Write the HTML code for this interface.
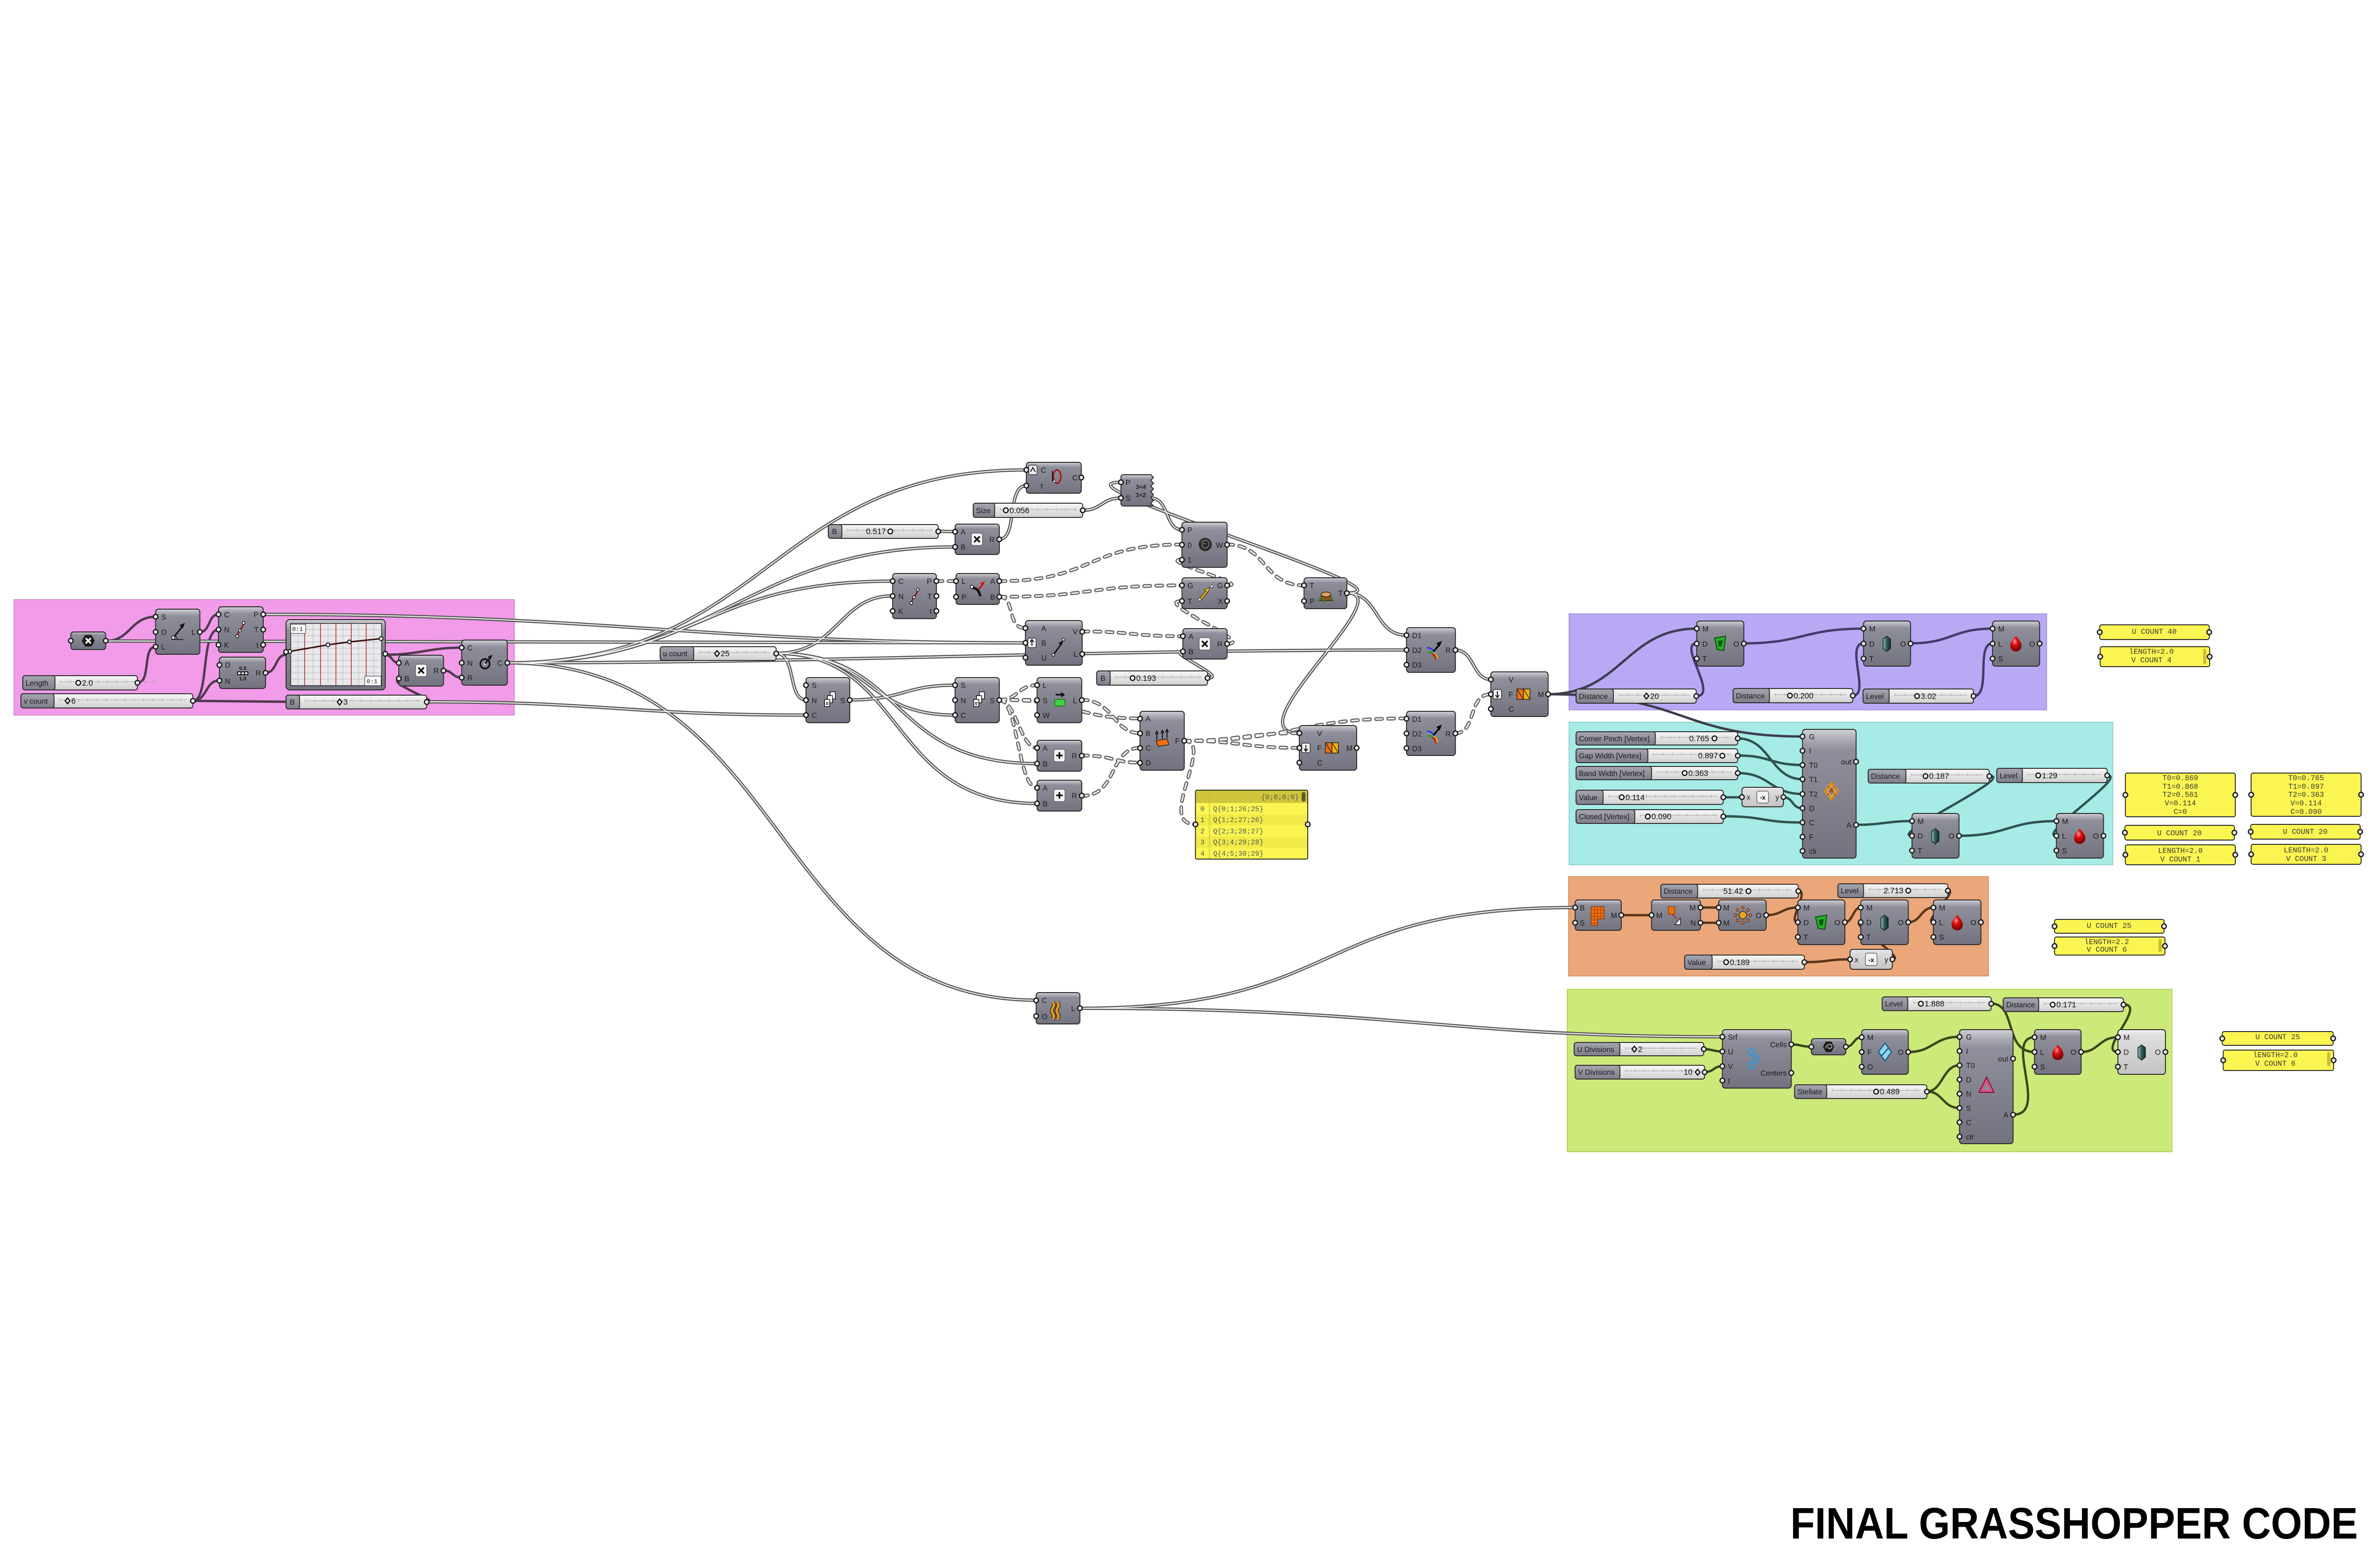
<!DOCTYPE html>
<html><head><meta charset="utf-8">
<style>
html,body{margin:0;padding:0;background:#fff;width:100vw;height:100vh;overflow:hidden}
svg{display:block;width:100vw;height:100vh}
.n{fill:url(#ng);stroke:#2b2b2b;stroke-width:2}
.nl{fill:url(#nlg);stroke:#2b2b2b;stroke-width:2}
.g{fill:#e6e6e6;stroke:#151515;stroke-width:2.5}
.t{font-family:"Liberation Sans",sans-serif;font-size:16px;fill:#1c1c1c}
.e{text-anchor:end}
.m{text-anchor:middle}
.sl{fill:url(#slg);stroke:#2e2e2e;stroke-width:2}
.sr{fill:url(#srg);stroke:#2e2e2e;stroke-width:2}
.st{font-family:"Liberation Sans",sans-serif;font-size:16px;fill:#1a1a1a}
.sv{font-family:"Liberation Sans",sans-serif;font-size:17px;fill:#111}
.rail{stroke:#a0a0a0;stroke-width:1;fill:none}
.tick{stroke:#a0a0a0;stroke-width:6;stroke-dasharray:1 19;fill:none}
.mk{fill:#fff;stroke:#111;stroke-width:2.5}
.pn{fill:#fbf552;stroke:#2a2a2a;stroke-width:2}
.pt{font-family:"Liberation Mono",monospace;font-size:16px;fill:#3a3a2a;text-anchor:middle}
.wa{fill:none;stroke:#575757;stroke-width:7}
.wb{fill:none;stroke:#f2f2f2;stroke-width:2.2}
.da{fill:none;stroke:#666;stroke-width:8;stroke-dasharray:13 13;stroke-linecap:round}
.db{fill:none;stroke:#f4f4f4;stroke-width:3;stroke-dasharray:13 13;stroke-linecap:round}
.wp{fill:none;stroke:#4e3a4e;stroke-width:5}
.wq{fill:none;stroke:#463a6a;stroke-width:5}
.wc{fill:none;stroke:#2f5250;stroke-width:5}
.wr{fill:none;stroke:#5a361a;stroke-width:5}
.wg{fill:none;stroke:#3b4718;stroke-width:5}
.wd{fill:none;stroke:#3d3d4d;stroke-width:5}
</style></head><body>
<svg xmlns="http://www.w3.org/2000/svg" width="100%" height="100%" viewBox="0 0 5100 3300" preserveAspectRatio="none">
<defs>
<linearGradient id="ng" x1="0" y1="0" x2="0" y2="1"><stop offset="0" stop-color="#d0d0d6"/><stop offset="0.09" stop-color="#a8a8b2"/><stop offset="0.16" stop-color="#8f8f9b"/><stop offset="1" stop-color="#737380"/></linearGradient>
<linearGradient id="nlg" x1="0" y1="0" x2="0" y2="1"><stop offset="0" stop-color="#f6f6f6"/><stop offset="0.12" stop-color="#dedede"/><stop offset="1" stop-color="#c4c4c4"/></linearGradient>
<linearGradient id="slg" x1="0" y1="0" x2="0" y2="1"><stop offset="0" stop-color="#a6a6b0"/><stop offset="1" stop-color="#7e7e8a"/></linearGradient>
<linearGradient id="srg" x1="0" y1="0" x2="0" y2="1"><stop offset="0" stop-color="#f7f7f7"/><stop offset="1" stop-color="#d0d0d0"/></linearGradient>
<radialGradient id="red" cx="0.4" cy="0.35" r="0.7"><stop offset="0" stop-color="#ff9a9a"/><stop offset="0.35" stop-color="#e01010"/><stop offset="1" stop-color="#6a0000"/></radialGradient>
<linearGradient id="gem" x1="0" y1="0" x2="1" y2="0"><stop offset="0" stop-color="#9cc2ba"/><stop offset="0.5" stop-color="#2e5c55"/><stop offset="1" stop-color="#142d2a"/></linearGradient>

<path id="o1" d="M565,1293 C1300,1293 1500,1353 2201,1353"/>
<path id="o2" d="M227,1349 C1000,1349 1500,1353 2201,1353"/>
<path id="o3" d="M1089,1395 C1800,1395 2300,1368 3019,1368"/>
<path id="o4" d="M1089,1395 C1650,1395 1650,989 2203,989"/>
<path id="o5" d="M1089,1395 C1550,1395 1600,1151 2050,1151"/>
<path id="o6" d="M1089,1395 C1500,1395 1500,1223 1916,1223"/>
<path id="o7" d="M1089,1395 C1700,1395 1650,2105 2224,2105"/>
<path id="o8" d="M916,1477 C1300,1477 1350,1505 1730,1505"/>
<path id="o10" d="M1666,1375 C1800,1375 1800,1254 1916,1254"/>
<path id="o11" d="M1666,1375 C1710,1375 1690,1473 1730,1473"/>
<path id="o12" d="M1666,1375 C1880,1375 1850,1505 2050,1505"/>
<path id="o13" d="M1666,1375 C1950,1375 1900,1607 2226,1607"/>
<path id="o14" d="M1666,1375 C1950,1375 1900,1691 2226,1691"/>
<path id="o15" d="M1824,1473 C1940,1473 1940,1442 2050,1442"/>
<path id="o16" d="M2324,1074 C2365,1074 2365,1048 2406,1048"/>
<path id="o17" d="M2145,1135 C2185,1135 2160,1022 2203,1022"/>
<path id="o18" d="M2891,1248 C3060,1248 2240,1015 2406,1015"/>
<path id="o19" d="M2891,1248 C3010,1248 2640,1543 2789,1543"/>
<path id="o20" d="M2891,1248 C2960,1248 2950,1337 3019,1337"/>
<path id="o21" d="M3124,1368 C3165,1368 3160,1430 3200,1430"/>
<path id="o22" d="M2014,1118 L2050,1119"/>
<path id="o23" d="M2592,1427 C2640,1427 2500,1371 2539,1371"/>
<path id="o24" d="M2318,2122 C2900,2122 2800,1910 3381,1910"/>
<path id="o25" d="M2318,2122 C3000,2122 3100,2182 3697,2182"/>
<path id="o28" d="M2470,1048 C2510,1048 2500,1115 2537,1115"/>

<path id="d1" d="M2010,1223 L2052,1223"/>
<path id="d2" d="M2145,1223 C2350,1223 2330,1146 2537,1146"/>
<path id="d3" d="M2145,1256 C2350,1256 2330,1232 2537,1232"/>
<path id="d4" d="M2145,1256 C2180,1256 2160,1322 2201,1322"/>
<path id="d5" d="M2323,1329 C2430,1329 2430,1339 2539,1339"/>
<path id="d6" d="M2634,1146 C2720,1146 2710,1232 2799,1232"/>
<path id="d7" d="M2634,1355 C2700,1355 2470,1265 2537,1265"/>
<path id="d8" d="M2634,1232 C2690,1232 2480,1178 2537,1178"/>
<path id="d9" d="M2145,1473 C2185,1473 2185,1442 2226,1442"/>
<path id="d10" d="M2145,1473 L2226,1473"/>
<path id="d11" d="M2145,1473 C2180,1473 2190,1574 2226,1574"/>
<path id="d12" d="M2145,1473 C2185,1473 2185,1658 2226,1658"/>
<path id="d13" d="M2322,1473 C2390,1473 2390,1543 2447,1543"/>
<path id="d14" d="M2145,1473 C2320,1473 2300,1512 2447,1512"/>
<path id="d15" d="M2322,1590 C2390,1590 2390,1605 2447,1605"/>
<path id="d16" d="M2322,1675 C2400,1675 2380,1574 2447,1574"/>
<path id="d17" d="M2541,1559 C2660,1559 2670,1574 2789,1574"/>
<path id="d18" d="M2541,1559 C2780,1559 2780,1512 3019,1512"/>
<path id="d19" d="M2541,1559 C2610,1559 2480,1735 2566,1735"/>
<path id="d20" d="M3124,1543 C3170,1543 3150,1461 3200,1461"/>
<path id="d21" d="M2541,1559 C2660,1559 2670,1543 2789,1543"/>
</defs>

<rect width="5100" height="3300" fill="#ffffff"/>

<!-- Groups -->
<rect x="30" y="1262" width="1074" height="243" fill="#f29be9" stroke="#d98bd2" stroke-width="2"/>
<rect x="3368" y="1292" width="1025" height="202" fill="#b9a9f4" stroke="#a697e0" stroke-width="2"/>
<rect x="3368" y="1520" width="1167" height="300" fill="#a6ebe5" stroke="#8fd3cd" stroke-width="2"/>
<rect x="3367" y="1845" width="901" height="209" fill="#eba77a" stroke="#d4946a" stroke-width="2"/>
<rect x="3364" y="2082" width="1298" height="342" fill="#cde97a" stroke="#b3d068" stroke-width="2"/>

<!-- group wires -->
<g class="wp">
<path d="M227,1349 C280,1349 280,1298 334,1298"/>
<path d="M295,1437 C325,1437 305,1361 334,1361"/>
<path d="M429,1330 C452,1330 446,1293 469,1293"/>
<path d="M414,1475 C450,1475 430,1325 469,1325"/>
<path d="M414,1475 C445,1475 440,1432 471,1432"/>
<path d="M570,1416 C595,1416 590,1378 614,1378"/>
<path d="M827,1378 C842,1378 840,1395 856,1395"/>
<path d="M916,1477 C950,1477 830,1440 856,1428"/>
<path d="M952,1411 C972,1411 970,1426 991,1426"/>
<path d="M827,1378 C900,1378 920,1363 991,1363"/>
<path d="M414,1475 L620,1477"/>
</g>
<g class="wq">
<path d="M3641,1465 C3690,1465 3600,1354 3642,1354"/>
<path d="M3743,1354 C3870,1354 3870,1323 4000,1323"/>
<path d="M3977,1464 C4015,1464 3960,1354 4000,1354"/>
<path d="M4101,1354 C4190,1354 4190,1323 4277,1323"/>
<path d="M4236,1465 C4275,1465 4240,1354 4277,1354"/>
</g>
<g class="wc">
<path d="M3730,1554 C3800,1554 3800,1640 3869,1640"/>
<path d="M3730,1590 C3800,1590 3800,1610 3869,1610"/>
<path d="M3730,1627 C3800,1627 3800,1671 3869,1671"/>
<path d="M3699,1678 L3739,1678"/>
<path d="M3828,1678 C3850,1678 3845,1701 3869,1701"/>
<path d="M3699,1718 C3790,1718 3780,1731 3869,1731"/>
<path d="M3984,1736 C4040,1736 4050,1728 4104,1728"/>
<path d="M4270,1633 C4330,1633 4050,1759 4104,1759"/>
<path d="M4205,1759 C4310,1759 4310,1728 4414,1728"/>
<path d="M4523,1632 C4570,1632 4370,1759 4414,1759"/>
</g>
<g class="wr">
<path d="M3480,1926 L3545,1926"/>
<path d="M3650,1910 L3689,1910"/>
<path d="M3650,1942 L3689,1942"/>
<path d="M3791,1926 C3825,1926 3825,1910 3859,1910"/>
<path d="M3860,1875 C3885,1875 3835,1941 3859,1941"/>
<path d="M3960,1941 C3977,1941 3977,1910 3994,1910"/>
<path d="M4096,1941 C4123,1941 4123,1910 4150,1910"/>
<path d="M4181,1874 C4205,1874 4125,1941 4150,1941"/>
<path d="M3873,2025 C3920,2025 3925,2019 3971,2019"/>
<path d="M4062,2019 C4095,2019 3965,1941 3994,1941"/>
</g>
<g class="wg">
<path d="M3657,2208 C3677,2208 3677,2213 3697,2213"/>
<path d="M3659,2256 C3680,2256 3677,2244 3697,2244"/>
<path d="M3845,2198 C3866,2198 3866,2203 3888,2203"/>
<path d="M3962,2203 C3980,2203 3978,2183 3996,2183"/>
<path d="M4096,2214 C4150,2214 4150,2182 4206,2182"/>
<path d="M4136,2297 C4170,2297 4170,2242 4206,2242"/>
<path d="M4136,2297 C4170,2297 4170,2332 4206,2332"/>
<path d="M4321,2346 C4400,2346 4300,2183 4367,2183"/>
<path d="M4274,2112 C4330,2112 4300,2214 4367,2214"/>
<path d="M4467,2214 C4505,2214 4505,2183 4546,2183"/>
<path d="M4558,2114 C4610,2114 4500,2214 4546,2214"/>
</g>
<g class="wd">
<path d="M3323,1461 C3480,1461 3490,1323 3642,1323"/>
<path d="M3323,1461 C3620,1461 3600,1550 3869,1550"/>
</g>

<!-- outside double wires -->
<g class="wa">
<use href="#o1"/><use href="#o2"/><use href="#o3"/><use href="#o4"/><use href="#o5"/><use href="#o6"/><use href="#o7"/><use href="#o8"/><use href="#o10"/><use href="#o11"/><use href="#o12"/><use href="#o13"/><use href="#o14"/><use href="#o15"/><use href="#o16"/><use href="#o17"/><use href="#o18"/><use href="#o19"/><use href="#o20"/><use href="#o21"/><use href="#o22"/><use href="#o23"/><use href="#o24"/><use href="#o25"/><use href="#o28"/>
</g>
<g class="wb">
<use href="#o1"/><use href="#o2"/><use href="#o3"/><use href="#o4"/><use href="#o5"/><use href="#o6"/><use href="#o7"/><use href="#o8"/><use href="#o10"/><use href="#o11"/><use href="#o12"/><use href="#o13"/><use href="#o14"/><use href="#o15"/><use href="#o16"/><use href="#o17"/><use href="#o18"/><use href="#o19"/><use href="#o20"/><use href="#o21"/><use href="#o22"/><use href="#o23"/><use href="#o24"/><use href="#o25"/><use href="#o28"/>
</g>
<g class="da">
<use href="#d1"/><use href="#d2"/><use href="#d3"/><use href="#d4"/><use href="#d5"/><use href="#d6"/><use href="#d7"/><use href="#d8"/><use href="#d9"/><use href="#d10"/><use href="#d11"/><use href="#d12"/><use href="#d13"/><use href="#d14"/><use href="#d15"/><use href="#d16"/><use href="#d17"/><use href="#d18"/><use href="#d19"/><use href="#d20"/><use href="#d21"/>
</g>
<g class="db">
<use href="#d1"/><use href="#d2"/><use href="#d3"/><use href="#d4"/><use href="#d5"/><use href="#d6"/><use href="#d7"/><use href="#d8"/><use href="#d9"/><use href="#d10"/><use href="#d11"/><use href="#d12"/><use href="#d13"/><use href="#d14"/><use href="#d15"/><use href="#d16"/><use href="#d17"/><use href="#d18"/><use href="#d19"/><use href="#d20"/><use href="#d21"/>
</g>

<!-- ================= PINK NODES ================= -->
<g transform="translate(152,1330)"><rect class="n" width="75" height="37" rx="6"/><polygon points="51.5,18.5 44.5,6.4 30.5,6.4 23.5,18.5 30.5,30.6 44.5,30.6" fill="#1b1b1b"/><path d="M32,13 L43,24 M43,13 L32,24" stroke="#fff" stroke-width="3.5"/><circle class="g" cx="0" cy="18.5" r="5"/><circle class="g" cx="75" cy="18.5" r="5"/></g>

<g transform="translate(334,1282)"><rect class="n" width="95" height="95" rx="6"/>
<text class="t" x="12" y="22">S</text><text class="t" x="12" y="54">D</text><text class="t" x="12" y="85">L</text><text class="t e" x="86" y="54">L</text>
<path d="M38,60 L58,36" stroke="#111" stroke-width="3"/><path d="M63,29 L51,34 L58,41Z" fill="#111"/><path d="M34,64 H60 M48,64 L42,54" stroke="#111" stroke-width="1.5" fill="none"/><circle cx="38" cy="60" r="3.5" fill="#fff" stroke="#111" stroke-width="1.5"/>
<circle class="g" cx="0" cy="16" r="5"/><circle class="g" cx="0" cy="48" r="5"/><circle class="g" cx="0" cy="79" r="5"/><circle class="g" cx="95" cy="48" r="5"/></g>

<g transform="translate(469,1277)"><rect class="n" width="96" height="96" rx="6"/>
<text class="t" x="12" y="22">C</text><text class="t" x="12" y="54">N</text><text class="t" x="12" y="86">K</text><text class="t e" x="86" y="22">P</text><text class="t e" x="86" y="54">T</text><text class="t e" x="86" y="86">t</text>
<path d="M40,62 C42,50 52,46 54,34" stroke="#8b1a1a" stroke-width="3" fill="none"/><circle cx="40" cy="62" r="3" fill="#fff" stroke="#111" stroke-width="1.5"/><circle cx="46" cy="50" r="3" fill="#fff" stroke="#111" stroke-width="1.5"/><circle cx="54" cy="34" r="3" fill="#fff" stroke="#111" stroke-width="1.5"/>
<circle class="g" cx="0" cy="16" r="5"/><circle class="g" cx="0" cy="48" r="5"/><circle class="g" cx="0" cy="80" r="5"/><circle class="g" cx="96" cy="16" r="5"/><circle class="g" cx="96" cy="48" r="5"/><circle class="g" cx="96" cy="80" r="5"/></g>

<g transform="translate(471,1383)"><rect class="n" width="99" height="66" rx="6"/>
<text class="t" x="12" y="22">D</text><text class="t" x="12" y="56">N</text><text class="t e" x="89" y="39">R</text>
<text x="50" y="27" font-family="Liberation Sans" font-size="11" font-weight="bold" text-anchor="middle" fill="#111">0.0</text><rect x="38" y="30" width="24" height="8" fill="#111"/><rect x="40" y="32" width="5" height="4" fill="#fff"/><rect x="47.5" y="32" width="5" height="4" fill="#fff"/><rect x="55" y="32" width="5" height="4" fill="#fff"/><text x="50" y="49" font-family="Liberation Sans" font-size="11" font-weight="bold" text-anchor="middle" fill="#111">1.0</text>
<circle class="g" cx="0" cy="16.5" r="5"/><circle class="g" cx="0" cy="49.5" r="5"/><circle class="g" cx="99" cy="33" r="5"/></g>

<g transform="translate(614,1304)"><rect class="n" width="213" height="148" rx="8"/>
<rect x="10" y="8" width="195" height="131" fill="#e9e9ec" stroke="#222" stroke-width="1.5"/>
<path d="M10,21 H205 M10,34 H205 M10,47 H205 M10,60 H205 M10,73 H205 M10,86 H205 M10,99 H205 M10,112 H205 M10,125 H205 M26,8 V139 M58,8 V139 M90,8 V139 M122,8 V139 M156,8 V139 M188,8 V139" stroke="#b8b8be" stroke-width="1"/>
<path d="M40,8 V139 M74,8 V139 M107,8 V139 M140,8 V139 M172,8 V139" stroke="#a02020" stroke-width="1.5"/>
<polyline points="8,67 90,53 136,47 204,40" fill="none" stroke="#3a0a0a" stroke-width="3"/>
<circle cx="8" cy="67" r="4" fill="#fff" stroke="#111" stroke-width="2"/><circle cx="90" cy="53" r="4" fill="#fff" stroke="#111" stroke-width="2"/><circle cx="136" cy="47" r="4" fill="#fff" stroke="#111" stroke-width="2"/><circle cx="204" cy="40" r="4" fill="#fff" stroke="#111" stroke-width="2"/>
<rect x="10" y="10" width="32" height="19" fill="#fff" stroke="#222" stroke-width="1"/><text x="13" y="24" font-family="Liberation Mono" font-size="13" fill="#111">0:1</text>
<rect x="169" y="119" width="35" height="20" fill="#fff" stroke="#222" stroke-width="1"/><text x="173" y="134" font-family="Liberation Mono" font-size="13" fill="#111">0:1</text>
<circle class="g" cx="0" cy="68" r="5"/><circle class="g" cx="213" cy="72" r="5"/></g>

<g transform="translate(856,1379)"><rect class="n" width="96" height="65" rx="6"/>
<text class="t" x="12" y="22">A</text><text class="t" x="12" y="55">B</text><text class="t e" x="86" y="38">R</text>
<rect x="36" y="19" width="24" height="26" rx="4" fill="#f4f4f4" stroke="#666" stroke-width="1.5"/><path d="M42,26 L54,38 M54,26 L42,38" stroke="#111" stroke-width="3.5"/>
<circle class="g" cx="0" cy="16" r="5"/><circle class="g" cx="0" cy="49" r="5"/><circle class="g" cx="96" cy="32.5" r="5"/></g>

<g transform="translate(991,1347)"><rect class="n" width="98" height="95" rx="6"/>
<text class="t" x="12" y="22">C</text><text class="t" x="12" y="54">N</text><text class="t" x="12" y="85">R</text><text class="t e" x="88" y="54">C</text>
<circle cx="50" cy="50" r="10" fill="none" stroke="#111" stroke-width="3.5"/><circle cx="50" cy="50" r="2.5" fill="#fff"/><path d="M50,50 L62,36" stroke="#111" stroke-width="3"/><path d="M66,31 L56,35 L62,41Z" fill="#111"/>
<circle class="g" cx="0" cy="16" r="5"/><circle class="g" cx="0" cy="48" r="5"/><circle class="g" cx="0" cy="79" r="5"/><circle class="g" cx="98" cy="48" r="5"/></g>

<!-- pink sliders -->
<g transform="translate(49,1422)"><rect class="sr" width="246" height="30" rx="5"/><rect class="sl" width="69" height="30" rx="5"/><text class="st" x="6" y="21">Length</text><path class="rail" d="M81,13 H282"/><path class="tick" d="M81,13 H282"/><circle class="mk" cx="119" cy="15" r="5"/><text class="sv" x="127" y="21">2.0</text><circle class="g" cx="246" cy="15" r="5"/></g>
<g transform="translate(45,1460)"><rect class="sr" width="369" height="30" rx="5"/><rect class="sl" width="71" height="30" rx="5"/><text class="st" x="6" y="21">v count</text><path class="rail" d="M83,13 H356"/><path class="tick" d="M83,13 H356"/><path class="mk" d="M100,9 L105,15 L100,21 L95,15Z"/><text class="sv" x="108" y="21">6</text><circle class="g" cx="369" cy="15" r="5"/></g>
<g transform="translate(614,1463)"><rect class="sr" width="302" height="29" rx="5"/><rect class="sl" width="29" height="29" rx="5"/><text class="st" x="8" y="20">B</text><path class="rail" d="M41,12 H289"/><path class="tick" d="M41,12 H289"/><path class="mk" d="M115,8.5 L120,14.5 L115,20.5 L110,14.5Z"/><text class="sv" x="123" y="20">3</text><circle class="g" cx="302" cy="14.5" r="5"/></g>

<!-- ================= MIDDLE NODES ================= -->
<g transform="translate(2203,973)"><rect class="n" width="118" height="65" rx="6"/>
<rect x="5" y="6" width="18" height="20" rx="3" fill="#eee" stroke="#333" stroke-width="1.5"/><path d="M9,20 L14,11 L19,20" stroke="#111" stroke-width="2" fill="none"/>
<text class="t" x="31" y="22">C</text><text class="t" x="31" y="55">t</text><text class="t e" x="110" y="38">C</text>
<ellipse cx="66" cy="30" rx="8" ry="14" fill="none" stroke="#b01010" stroke-width="3"/><path d="M56,18 V40" stroke="#111" stroke-width="2"/><circle cx="60" cy="40" r="2.5" fill="#fff" stroke="#111"/>
<circle class="g" cx="0" cy="16" r="5"/><circle class="g" cx="0" cy="49" r="5"/><circle class="g" cx="118" cy="32" r="5"/></g>

<g transform="translate(2406,999)"><path class="n" d="M6,0 H64 L70,6 L64,12 L70,18 L64,24 L70,30 L64,36 L70,42 L64,48 L70,54 L64,60 L70,66 H6 Q0,66 0,60 V6 Q0,0 6,0 Z"/>
<text class="t" x="10" y="22">P</text><text class="t" x="10" y="55">S</text>
<text x="43" y="30" font-family="Liberation Sans" font-size="13" font-weight="bold" text-anchor="middle" fill="#222">3&lt;4</text><text x="43" y="47" font-family="Liberation Sans" font-size="13" font-weight="bold" text-anchor="middle" fill="#222">1&lt;2</text>
<circle class="g" cx="0" cy="16" r="5"/><circle class="g" cx="0" cy="49" r="5"/></g>

<g transform="translate(2089,1059)"><rect class="sr" width="235" height="30" rx="5"/><rect class="sl" width="46" height="30" rx="5"/><text class="st" x="6" y="21">Size</text><path class="rail" d="M58,13 H222"/><path class="tick" d="M58,13 H222"/><circle class="mk" cx="70" cy="15" r="5"/><text class="sv" x="78" y="21">0.056</text><circle class="g" cx="235" cy="15" r="5"/></g>
<g transform="translate(1778,1104)"><rect class="sr" width="236" height="29" rx="5"/><rect class="sl" width="29" height="29" rx="5"/><text class="st" x="8" y="20">B</text><path class="rail" d="M41,12 H223"/><path class="tick" d="M41,12 H223"/><text class="sv" x="81" y="20">0.517</text><circle class="mk" cx="133" cy="14.5" r="5"/><circle class="g" cx="236" cy="14.5" r="5"/></g>

<g transform="translate(2050,1103)"><rect class="n" width="95" height="64" rx="6"/>
<text class="t" x="12" y="22">A</text><text class="t" x="12" y="54">B</text><text class="t e" x="85" y="38">R</text>
<rect x="35" y="19" width="24" height="26" rx="4" fill="#f4f4f4" stroke="#666" stroke-width="1.5"/><path d="M41,26 L53,38 M53,26 L41,38" stroke="#111" stroke-width="3.5"/>
<circle class="g" cx="0" cy="16" r="5"/><circle class="g" cx="0" cy="48" r="5"/><circle class="g" cx="95" cy="32" r="5"/></g>

<g transform="translate(2537,1099)"><rect class="n" width="97" height="95" rx="6"/>
<text class="t" x="12" y="22">P</text><text class="t" x="12" y="54">0</text><text class="t" x="12" y="85">1</text><text class="t e" x="88" y="54">W</text>
<circle cx="50" cy="47" r="14" fill="#2a2a2a"/><path d="M42,44 C44,36 56,36 58,44 C60,52 50,58 44,52 C40,48 46,42 51,46" stroke="#777" stroke-width="2" fill="none"/>
<circle class="g" cx="0" cy="16" r="5"/><circle class="g" cx="0" cy="47.5" r="5"/><circle class="g" cx="0" cy="79" r="5"/><circle class="g" cx="97" cy="47.5" r="5"/></g>

<g transform="translate(1916,1207)"><rect class="n" width="94" height="95" rx="6"/>
<text class="t" x="12" y="22">C</text><text class="t" x="12" y="54">N</text><text class="t" x="12" y="85">K</text><text class="t e" x="84" y="22">P</text><text class="t e" x="84" y="54">T</text><text class="t e" x="84" y="85">t</text>
<path d="M40,62 C42,50 52,46 54,34" stroke="#8b1a1a" stroke-width="3" fill="none"/><circle cx="40" cy="62" r="3" fill="#fff" stroke="#111" stroke-width="1.5"/><circle cx="46" cy="50" r="3" fill="#fff" stroke="#111" stroke-width="1.5"/><circle cx="54" cy="34" r="3" fill="#fff" stroke="#111" stroke-width="1.5"/>
<circle class="g" cx="0" cy="16" r="5"/><circle class="g" cx="0" cy="47.5" r="5"/><circle class="g" cx="0" cy="79" r="5"/><circle class="g" cx="94" cy="16" r="5"/><circle class="g" cx="94" cy="47.5" r="5"/><circle class="g" cx="94" cy="79" r="5"/></g>

<g transform="translate(2052,1207)"><rect class="n" width="93" height="65" rx="6"/>
<text class="t" x="12" y="22">L</text><text class="t" x="12" y="55">P</text><text class="t e" x="84" y="22">A</text><text class="t e" x="84" y="55">B</text>
<path d="M34,30 C44,30 50,36 52,48" stroke="#111" stroke-width="5" fill="none"/><circle cx="34" cy="28" r="3.5" fill="#fff" stroke="#111" stroke-width="1.5"/><path d="M48,34 L58,22" stroke="#d01818" stroke-width="4"/><path d="M62,16 L52,20 L58,26Z" fill="#d01818"/>
<circle class="g" cx="0" cy="16" r="5"/><circle class="g" cx="0" cy="49" r="5"/><circle class="g" cx="93" cy="16" r="5"/><circle class="g" cx="93" cy="49" r="5"/></g>

<g transform="translate(2537,1216)"><rect class="n" width="97" height="65" rx="6"/>
<text class="t" x="12" y="22">G</text><text class="t" x="12" y="55">T</text><text class="t e" x="88" y="22">G</text><text class="t e" x="88" y="55">X</text>
<path d="M40,44 L56,26" stroke="#333" stroke-width="6"/><path d="M40,44 L56,26" stroke="#f0b400" stroke-width="3.5"/><path d="M60,20 L48,25 L55,32Z" fill="#f0b400" stroke="#333" stroke-width="1"/><circle cx="38" cy="46" r="3" fill="#fff" stroke="#111"/><circle cx="64" cy="18" r="3" fill="#fff" stroke="#111"/>
<circle class="g" cx="0" cy="16" r="5"/><circle class="g" cx="0" cy="49" r="5"/><circle class="g" cx="97" cy="16" r="5"/><circle class="g" cx="97" cy="49" r="5"/></g>

<g transform="translate(2201,1306)"><rect class="n" width="122" height="94" rx="6"/>
<rect x="5" y="37" width="18" height="20" rx="3" fill="#eee" stroke="#333" stroke-width="1.5"/><path d="M14,53 V41 M10,45 L14,40 L18,45" stroke="#111" stroke-width="2" fill="none"/>
<text class="t" x="34" y="22">A</text><text class="t" x="34" y="53">B</text><text class="t" x="34" y="84">U</text><text class="t e" x="112" y="29">V</text><text class="t e" x="112" y="76">L</text>
<path d="M60,72 L78,48" stroke="#111" stroke-width="3"/><path d="M82,42 L71,47 L77,53Z" fill="#111"/><circle cx="60" cy="72" r="3" fill="#fff" stroke="#111" stroke-width="1.5"/><circle cx="82" cy="40" r="3" fill="#fff" stroke="#111" stroke-width="1.5"/>
<circle class="g" cx="0" cy="16" r="5"/><circle class="g" cx="0" cy="47" r="5"/><circle class="g" cx="0" cy="78" r="5"/><circle class="g" cx="122" cy="23.5" r="5"/><circle class="g" cx="122" cy="70.5" r="5"/></g>

<g transform="translate(2539,1323)"><rect class="n" width="95" height="64" rx="6"/>
<text class="t" x="12" y="22">A</text><text class="t" x="12" y="54">B</text><text class="t e" x="85" y="38">R</text>
<rect x="35" y="19" width="24" height="26" rx="4" fill="#f4f4f4" stroke="#666" stroke-width="1.5"/><path d="M41,26 L53,38 M53,26 L41,38" stroke="#111" stroke-width="3.5"/>
<circle class="g" cx="0" cy="16" r="5"/><circle class="g" cx="0" cy="48" r="5"/><circle class="g" cx="95" cy="32" r="5"/></g>

<g transform="translate(1417,1361)"><rect class="sr" width="249" height="29" rx="5"/><rect class="sl" width="72" height="29" rx="5"/><text class="st" x="6" y="20">u count</text><path class="rail" d="M84,12 H236"/><path class="tick" d="M84,12 H236"/><path class="mk" d="M122,8.5 L127,14.5 L122,20.5 L117,14.5Z"/><text class="sv" x="130" y="20">25</text><circle class="g" cx="249" cy="14.5" r="5"/></g>
<g transform="translate(2354,1412)"><rect class="sr" width="238" height="30" rx="5"/><rect class="sl" width="29" height="30" rx="5"/><text class="st" x="8" y="21">B</text><path class="rail" d="M41,13 H225"/><path class="tick" d="M41,13 H225"/><circle class="mk" cx="77" cy="15" r="5"/><text class="sv" x="85" y="21">0.193</text><circle class="g" cx="238" cy="15" r="5"/></g>

<g transform="translate(1730,1426)"><rect class="n" width="94" height="95" rx="6"/>
<text class="t" x="12" y="22">S</text><text class="t" x="12" y="54">N</text><text class="t" x="12" y="85">C</text><text class="t e" x="84" y="54">S</text>
<rect x="52" y="30" width="11" height="15" fill="#fff" stroke="#111" stroke-width="1.5"/><rect x="46" y="38" width="11" height="15" fill="#fff" stroke="#111" stroke-width="1.5"/><rect x="40" y="46" width="11" height="15" fill="#fff" stroke="#111" stroke-width="1.5"/><text x="45.5" y="58" font-family="Liberation Sans" font-size="10" font-weight="bold" text-anchor="middle" fill="#111">0</text>
<circle class="g" cx="0" cy="16" r="5"/><circle class="g" cx="0" cy="47.5" r="5"/><circle class="g" cx="0" cy="79" r="5"/><circle class="g" cx="94" cy="47.5" r="5"/></g>

<g transform="translate(2050,1426)"><rect class="n" width="95" height="95" rx="6"/>
<text class="t" x="12" y="22">S</text><text class="t" x="12" y="54">N</text><text class="t" x="12" y="85">C</text><text class="t e" x="85" y="54">S</text>
<rect x="52" y="30" width="11" height="15" fill="#fff" stroke="#111" stroke-width="1.5"/><rect x="46" y="38" width="11" height="15" fill="#fff" stroke="#111" stroke-width="1.5"/><rect x="40" y="46" width="11" height="15" fill="#fff" stroke="#111" stroke-width="1.5"/><text x="45.5" y="58" font-family="Liberation Sans" font-size="10" font-weight="bold" text-anchor="middle" fill="#111">0</text>
<circle class="g" cx="0" cy="16" r="5"/><circle class="g" cx="0" cy="47.5" r="5"/><circle class="g" cx="0" cy="79" r="5"/><circle class="g" cx="95" cy="47.5" r="5"/></g>

<g transform="translate(2226,1426)"><rect class="n" width="96" height="95" rx="6"/>
<text class="t" x="12" y="22">L</text><text class="t" x="12" y="54">S</text><text class="t" x="12" y="85">W</text><text class="t e" x="86" y="54">L</text>
<path d="M40,36 H56" stroke="#111" stroke-width="3.5"/><path d="M60,36 L52,30 V42Z" fill="#111"/><rect x="38" y="46" width="22" height="14" fill="#3fd13f" stroke="#1a6a1a" stroke-width="1.5"/>
<circle class="g" cx="0" cy="16" r="5"/><circle class="g" cx="0" cy="47.5" r="5"/><circle class="g" cx="0" cy="79" r="5"/><circle class="g" cx="96" cy="47.5" r="5"/></g>

<g transform="translate(2226,1558)"><rect class="n" width="96" height="65" rx="6"/>
<text class="t" x="12" y="22">A</text><text class="t" x="12" y="55">B</text><text class="t e" x="86" y="38">R</text>
<rect x="36" y="19" width="24" height="26" rx="4" fill="#f4f4f4" stroke="#666" stroke-width="1.5"/><path d="M48,25 V39 M41,32 H55" stroke="#111" stroke-width="3.5"/>
<circle class="g" cx="0" cy="16" r="5"/><circle class="g" cx="0" cy="49" r="5"/><circle class="g" cx="96" cy="32.5" r="5"/></g>
<g transform="translate(2226,1642)"><rect class="n" width="96" height="65" rx="6"/>
<text class="t" x="12" y="22">A</text><text class="t" x="12" y="55">B</text><text class="t e" x="86" y="38">R</text>
<rect x="36" y="19" width="24" height="26" rx="4" fill="#f4f4f4" stroke="#666" stroke-width="1.5"/><path d="M48,25 V39 M41,32 H55" stroke="#111" stroke-width="3.5"/>
<circle class="g" cx="0" cy="16" r="5"/><circle class="g" cx="0" cy="49" r="5"/><circle class="g" cx="96" cy="32.5" r="5"/></g>

<g transform="translate(2447,1497)"><rect class="n" width="95" height="124" rx="6"/>
<text class="t" x="12" y="21">A</text><text class="t" x="12" y="52">B</text><text class="t" x="12" y="83">C</text><text class="t" x="12" y="114">D</text><text class="t e" x="85" y="68">F</text>
<polygon points="34,62 58,58 62,70 40,74" fill="#f07010" stroke="#222" stroke-width="1.5"/><path d="M36,60 V46 M48,58 V44 M58,56 V42" stroke="#111" stroke-width="2"/><path d="M33,48 L36,42 L39,48 M45,46 L48,40 L51,46 M55,44 L58,38 L61,44" stroke="#111" stroke-width="2" fill="none"/>
<circle class="g" cx="0" cy="15.5" r="5"/><circle class="g" cx="0" cy="46.5" r="5"/><circle class="g" cx="0" cy="77.5" r="5"/><circle class="g" cx="0" cy="108.5" r="5"/><circle class="g" cx="95" cy="62" r="5"/></g>

<!-- data panel -->
<g transform="translate(2566,1663)"><rect class="pn" width="241" height="145" rx="3"/>
<rect x="1" y="1" width="239" height="26" fill="#cfc63c"/>
<rect x="1" y="51" width="239" height="23" fill="#f1ea48"/><rect x="1" y="98" width="239" height="23" fill="#f1ea48"/>
<path d="M30,1 V144" stroke="#c8c040" stroke-width="1.5"/>
<rect x="228" y="4" width="8" height="20" rx="4" fill="#5e5a20"/>
<text x="222" y="19" font-family="Liberation Mono" font-size="15" fill="#555" text-anchor="end">{0;0;0;0}</text>
<g font-family="Liberation Mono" font-size="15" fill="#555">
<text x="15" y="44" text-anchor="middle">0</text><text x="38" y="44">Q{0;1;26;25}</text>
<text x="15" y="67" text-anchor="middle">1</text><text x="38" y="67">Q{1;2;27;26}</text>
<text x="15" y="91" text-anchor="middle">2</text><text x="38" y="91">Q{2;3;28;27}</text>
<text x="15" y="114" text-anchor="middle">3</text><text x="38" y="114">Q{3;4;29;28}</text>
<text x="15" y="138" text-anchor="middle">4</text><text x="38" y="138">Q{4;5;30;29}</text>
</g>
<circle class="g" cx="0" cy="72" r="5"/><circle class="g" cx="241" cy="72" r="5"/></g>

<g transform="translate(2799,1216)"><rect class="n" width="92" height="65" rx="6"/>
<text class="t" x="12" y="22">T</text><text class="t" x="12" y="55">P</text><text class="t e" x="83" y="38">T</text>
<path d="M32,48 L38,36 H56 L62,48Z" fill="#8a5020" stroke="#3a2010" stroke-width="1.5"/><ellipse cx="47" cy="35" rx="10" ry="5" fill="#e0a060" stroke="#3a2010" stroke-width="1.5"/><path d="M30,50 L36,40 M64,50 L58,40 M40,52 L44,44" stroke="#2e8a2e" stroke-width="3"/>
<circle class="g" cx="0" cy="16" r="5"/><circle class="g" cx="0" cy="49" r="5"/><circle class="g" cx="92" cy="32.5" r="5"/></g>

<g transform="translate(3019,1321)"><rect class="n" width="105" height="94" rx="6"/>
<text class="t" x="12" y="22">D1</text><text class="t" x="12" y="53">D2</text><text class="t" x="12" y="84">D3</text><text class="t e" x="95" y="53">R</text>
<path d="M44,42 Q58,42 62,58" stroke="#1a3cff" stroke-width="3" fill="none"/><path d="M46,52 Q58,50 60,64" stroke="#18a018" stroke-width="3" fill="none"/><path d="M54,56 Q62,56 64,68" stroke="#e01010" stroke-width="3" fill="none"/><path d="M58,52 Q66,56 66,66" stroke="#f0c000" stroke-width="2.5" fill="none"/><path d="M58,50 L72,34" stroke="#000" stroke-width="3.5"/><path d="M76,28 L64,33 L71,40Z" fill="#000"/>
<circle class="g" cx="0" cy="16" r="5"/><circle class="g" cx="0" cy="47" r="5"/><circle class="g" cx="0" cy="78" r="5"/><circle class="g" cx="105" cy="47" r="5"/></g>
<g transform="translate(3019,1497)"><rect class="n" width="105" height="93" rx="6"/>
<text class="t" x="12" y="22">D1</text><text class="t" x="12" y="53">D2</text><text class="t" x="12" y="84">D3</text><text class="t e" x="95" y="53">R</text>
<path d="M44,42 Q58,42 62,58" stroke="#1a3cff" stroke-width="3" fill="none"/><path d="M46,52 Q58,50 60,64" stroke="#18a018" stroke-width="3" fill="none"/><path d="M54,56 Q62,56 64,68" stroke="#e01010" stroke-width="3" fill="none"/><path d="M58,52 Q66,56 66,66" stroke="#f0c000" stroke-width="2.5" fill="none"/><path d="M58,50 L72,34" stroke="#000" stroke-width="3.5"/><path d="M76,28 L64,33 L71,40Z" fill="#000"/>
<circle class="g" cx="0" cy="15.5" r="5"/><circle class="g" cx="0" cy="46.5" r="5"/><circle class="g" cx="0" cy="77.5" r="5"/><circle class="g" cx="105" cy="46.5" r="5"/></g>

<g transform="translate(2789,1527)"><rect class="n" width="123" height="94" rx="6"/>
<rect x="5" y="37" width="18" height="20" rx="3" fill="#eee" stroke="#333" stroke-width="1.5"/><path d="M14,41 V53 M10,49 L14,54 L18,49" stroke="#111" stroke-width="2" fill="none"/>
<text class="t" x="38" y="22">V</text><text class="t" x="38" y="53">F</text><text class="t" x="38" y="84">C</text><text class="t e" x="114" y="53">M</text>
<rect x="56" y="36" width="14" height="22" fill="#f07010" stroke="#222" stroke-width="1.5"/><rect x="70" y="36" width="14" height="22" fill="#f0b010" stroke="#222" stroke-width="1.5"/><path d="M56,36 L70,58 M70,36 L84,58" stroke="#222" stroke-width="1.5"/>
<circle class="g" cx="0" cy="16" r="5"/><circle class="g" cx="0" cy="47" r="5"/><circle class="g" cx="0" cy="78" r="5"/><circle class="g" cx="123" cy="47" r="5"/></g>
<g transform="translate(3200,1414)"><rect class="n" width="123" height="94" rx="6"/>
<rect x="5" y="37" width="18" height="20" rx="3" fill="#eee" stroke="#333" stroke-width="1.5"/><path d="M14,41 V53 M10,49 L14,54 L18,49" stroke="#111" stroke-width="2" fill="none"/>
<text class="t" x="38" y="22">V</text><text class="t" x="38" y="53">F</text><text class="t" x="38" y="84">C</text><text class="t e" x="114" y="53">M</text>
<rect x="56" y="36" width="14" height="22" fill="#f07010" stroke="#222" stroke-width="1.5"/><rect x="70" y="36" width="14" height="22" fill="#f0b010" stroke="#222" stroke-width="1.5"/><path d="M56,36 L70,58 M70,36 L84,58" stroke="#222" stroke-width="1.5"/>
<circle class="g" cx="0" cy="16" r="5"/><circle class="g" cx="0" cy="47" r="5"/><circle class="g" cx="0" cy="78" r="5"/><circle class="g" cx="123" cy="47" r="5"/></g>

<g transform="translate(2224,2089)"><rect class="n" width="94" height="66" rx="6"/>
<text class="t" x="12" y="22">C</text><text class="t" x="12" y="56">O</text><text class="t e" x="84" y="39">L</text>
<path d="M36,20 q4,6 0,12 q-4,6 0,12 q4,6 0,12 M46,20 q4,6 0,12 q-4,6 0,12 q4,6 0,12" stroke="#222" stroke-width="8" fill="none"/><path d="M36,20 q4,6 0,12 q-4,6 0,12 q4,6 0,12 M46,20 q4,6 0,12 q-4,6 0,12 q4,6 0,12" stroke="#f59a10" stroke-width="5" fill="none"/>
<circle class="g" cx="0" cy="16.5" r="5"/><circle class="g" cx="0" cy="49.5" r="5"/><circle class="g" cx="94" cy="33" r="5"/></g>

<!-- ================= PURPLE ================= -->
<g transform="translate(3642,1307)"><rect class="n" width="101" height="95" rx="6"/>
<text class="t" x="12" y="22">M</text><text class="t" x="12" y="54">D</text><text class="t" x="12" y="85">T</text><text class="t e" x="91" y="54">O</text>
<polygon points="38,36 62,32 58,62 44,60" fill="#27b027" stroke="#0d4a0d" stroke-width="2"/><polygon points="45,42 56,40 53,54 47,53" fill="#0f5a0f"/>
<circle class="g" cx="0" cy="16" r="5"/><circle class="g" cx="0" cy="47.5" r="5"/><circle class="g" cx="0" cy="79" r="5"/><circle class="g" cx="101" cy="47.5" r="5"/></g>
<g transform="translate(4000,1307)"><rect class="n" width="101" height="95" rx="6"/>
<text class="t" x="12" y="22">M</text><text class="t" x="12" y="54">D</text><text class="t" x="12" y="85">T</text><text class="t e" x="91" y="54">O</text>
<path d="M42,38 L50,32 L58,38 V58 L50,64 L42,58Z" fill="url(#gem)" stroke="#0f2220" stroke-width="1.5"/>
<circle class="g" cx="0" cy="16" r="5"/><circle class="g" cx="0" cy="47.5" r="5"/><circle class="g" cx="0" cy="79" r="5"/><circle class="g" cx="101" cy="47.5" r="5"/></g>
<g transform="translate(4277,1307)"><rect class="n" width="101" height="95" rx="6"/>
<text class="t" x="12" y="22">M</text><text class="t" x="12" y="54">L</text><text class="t" x="12" y="85">S</text><text class="t e" x="91" y="54">O</text>
<path d="M50,32 C58,40 62,46 62,52 C62,60 56,64 50,64 C44,64 38,60 38,52 C38,46 42,40 50,32Z" fill="url(#red)"/>
<circle class="g" cx="0" cy="16" r="5"/><circle class="g" cx="0" cy="47.5" r="5"/><circle class="g" cx="0" cy="79" r="5"/><circle class="g" cx="101" cy="47.5" r="5"/></g>

<g transform="translate(3383,1450)"><rect class="sr" width="258" height="30" rx="5"/><rect class="sl" width="80" height="30" rx="5"/><text class="st" x="6" y="21">Distance</text><path class="rail" d="M92,13 H245"/><path class="tick" d="M92,13 H245"/><path class="mk" d="M151,9 L156,15 L151,21 L146,15Z"/><text class="sv" x="159" y="21">20</text><circle class="g" cx="258" cy="15" r="5"/></g>
<g transform="translate(3720,1449)"><rect class="sr" width="257" height="30" rx="5"/><rect class="sl" width="78" height="30" rx="5"/><text class="st" x="6" y="21">Distance</text><path class="rail" d="M90,13 H244"/><path class="tick" d="M90,13 H244"/><circle class="mk" cx="122" cy="15" r="5"/><text class="sv" x="130" y="21">0.200</text><circle class="g" cx="257" cy="15" r="5"/></g>
<g transform="translate(3999,1450)"><rect class="sr" width="237" height="30" rx="5"/><rect class="sl" width="56" height="30" rx="5"/><text class="st" x="6" y="21">Level</text><path class="rail" d="M68,13 H224"/><path class="tick" d="M68,13 H224"/><circle class="mk" cx="116" cy="15" r="5"/><text class="sv" x="124" y="21">3.02</text><circle class="g" cx="237" cy="15" r="5"/></g>

<!-- ================= CYAN ================= -->
<g transform="translate(3383,1540)"><rect class="sr" width="347" height="28" rx="5"/><rect class="sl" width="170" height="28" rx="5"/><text class="st" x="6" y="20">Corner Pinch [Vertex]</text><path class="rail" d="M182,12 H334"/><path class="tick" d="M182,12 H334"/><text class="sv" x="243" y="20">0.765</text><circle class="mk" cx="297" cy="14" r="5"/><circle class="g" cx="347" cy="14" r="5"/></g>
<g transform="translate(3383,1576)"><rect class="sr" width="347" height="29" rx="5"/><rect class="sl" width="154" height="29" rx="5"/><text class="st" x="6" y="20">Gap Width [Vertex]</text><path class="rail" d="M166,12 H334"/><path class="tick" d="M166,12 H334"/><text class="sv" x="262" y="20">0.897</text><circle class="mk" cx="314" cy="14.5" r="5"/><circle class="g" cx="347" cy="14.5" r="5"/></g>
<g transform="translate(3383,1613)"><rect class="sr" width="347" height="28" rx="5"/><rect class="sl" width="162" height="28" rx="5"/><text class="st" x="6" y="20">Band Width [Vertex]</text><path class="rail" d="M174,12 H334"/><path class="tick" d="M174,12 H334"/><circle class="mk" cx="233" cy="14" r="5"/><text class="sv" x="241" y="20">0.363</text><circle class="g" cx="347" cy="14" r="5"/></g>
<g transform="translate(3383,1663)"><rect class="sr" width="316" height="30" rx="5"/><rect class="sl" width="58" height="30" rx="5"/><text class="st" x="6" y="21">Value</text><path class="rail" d="M70,13 H303"/><path class="tick" d="M70,13 H303"/><circle class="mk" cx="98" cy="15" r="5"/><text class="sv" x="106" y="21">0.114</text><circle class="g" cx="316" cy="15" r="5"/></g>
<g transform="translate(3383,1704)"><rect class="sr" width="316" height="29" rx="5"/><rect class="sl" width="126" height="29" rx="5"/><text class="st" x="6" y="20">Closed [Vertex]</text><path class="rail" d="M138,12 H303"/><path class="tick" d="M138,12 H303"/><circle class="mk" cx="154" cy="14.5" r="5"/><text class="sv" x="162" y="20">0.090</text><circle class="g" cx="316" cy="14.5" r="5"/></g>

<g transform="translate(3739,1657)"><rect class="nl" width="89" height="41" rx="6"/>
<text class="t" x="10" y="26">x</text><text class="t e" x="80" y="26">y</text>
<rect x="32" y="8" width="25" height="25" rx="4" fill="#f4f4f4" stroke="#666" stroke-width="1.5"/><text x="44.5" y="26" font-family="Liberation Sans" font-size="14" font-weight="bold" text-anchor="middle" fill="#111">-x</text>
<circle class="g" cx="0" cy="20.5" r="5"/><circle class="g" cx="89" cy="20.5" r="5"/></g>

<g transform="translate(3869,1535)"><rect class="n" width="115" height="271" rx="6"/>
<text class="t" x="14" y="21">G</text><text class="t" x="14" y="51">I</text><text class="t" x="14" y="81">T0</text><text class="t" x="14" y="111">T1</text><text class="t" x="14" y="142">T2</text><text class="t" x="14" y="172">D</text><text class="t" x="14" y="202">C</text><text class="t" x="14" y="232">F</text><text class="t" x="14" y="262">clr</text>
<text class="t e" x="105" y="74">out</text><text class="t e" x="105" y="207">A</text>
<path d="M62,112 L76,130 L62,148 L48,130Z" fill="none" stroke="#e08a10" stroke-width="4"/><path d="M56,120 L70,138 M68,120 L54,138" stroke="#c04010" stroke-width="3"/><path d="M62,118 L70,130 L62,142 L54,130Z" fill="none" stroke="#f0c040" stroke-width="2"/>
<circle class="g" cx="0" cy="15" r="5"/><circle class="g" cx="0" cy="45" r="5"/><circle class="g" cx="0" cy="75" r="5"/><circle class="g" cx="0" cy="105" r="5"/><circle class="g" cx="0" cy="136" r="5"/><circle class="g" cx="0" cy="166" r="5"/><circle class="g" cx="0" cy="196" r="5"/><circle class="g" cx="0" cy="226" r="5"/><circle class="g" cx="0" cy="256" r="5"/><circle class="g" cx="115" cy="68" r="5"/><circle class="g" cx="115" cy="201" r="5"/></g>

<g transform="translate(4010,1619)"><rect class="sr" width="260" height="29" rx="5"/><rect class="sl" width="81" height="29" rx="5"/><text class="st" x="6" y="20">Distance</text><path class="rail" d="M93,12 H247"/><path class="tick" d="M93,12 H247"/><circle class="mk" cx="123" cy="14.5" r="5"/><text class="sv" x="131" y="20">0.187</text><circle class="g" cx="260" cy="14.5" r="5"/></g>
<g transform="translate(4286,1617)"><rect class="sr" width="237" height="30" rx="5"/><rect class="sl" width="55" height="30" rx="5"/><text class="st" x="6" y="21">Level</text><path class="rail" d="M67,13 H224"/><path class="tick" d="M67,13 H224"/><circle class="mk" cx="89" cy="15" r="5"/><text class="sv" x="97" y="21">1.29</text><circle class="g" cx="237" cy="15" r="5"/></g>

<g transform="translate(4104,1712)"><rect class="n" width="101" height="94" rx="6"/>
<text class="t" x="12" y="22">M</text><text class="t" x="12" y="53">D</text><text class="t" x="12" y="84">T</text><text class="t e" x="91" y="53">O</text>
<path d="M42,38 L50,32 L58,38 V58 L50,64 L42,58Z" fill="url(#gem)" stroke="#0f2220" stroke-width="1.5"/>
<circle class="g" cx="0" cy="16" r="5"/><circle class="g" cx="0" cy="47" r="5"/><circle class="g" cx="0" cy="78" r="5"/><circle class="g" cx="101" cy="47" r="5"/></g>
<g transform="translate(4414,1712)"><rect class="n" width="101" height="94" rx="6"/>
<text class="t" x="12" y="22">M</text><text class="t" x="12" y="53">L</text><text class="t" x="12" y="84">S</text><text class="t e" x="91" y="53">O</text>
<path d="M50,32 C58,40 62,46 62,52 C62,60 56,64 50,64 C44,64 38,60 38,52 C38,46 42,40 50,32Z" fill="url(#red)"/>
<circle class="g" cx="0" cy="16" r="5"/><circle class="g" cx="0" cy="47" r="5"/><circle class="g" cx="0" cy="78" r="5"/><circle class="g" cx="101" cy="47" r="5"/></g>

<!-- ================= ORANGE ================= -->
<g transform="translate(3381,1894)"><rect class="n" width="99" height="64" rx="6"/>
<text class="t" x="10" y="22">B</text><text class="t" x="10" y="54">S</text><text class="t e" x="90" y="38">M</text>
<path d="M34,14 H62 V40 H48 V54 H34Z" fill="#f07010" stroke="#8a3a00" stroke-width="1.5"/><path d="M34,21 H62 M34,28 H62 M34,35 H62 M34,42 H48 M34,49 H48 M41,14 V54 M48,14 V40 M55,14 V40" stroke="#8a3a00" stroke-width="1"/>
<circle class="g" cx="0" cy="16" r="5"/><circle class="g" cx="0" cy="48" r="5"/><circle class="g" cx="99" cy="32" r="5"/></g>
<g transform="translate(3545,1894)"><rect class="n" width="105" height="64" rx="6"/>
<text class="t" x="10" y="38">M</text><text class="t e" x="95" y="22">M</text><text class="t e" x="95" y="54">N</text>
<rect x="36" y="14" width="14" height="16" fill="#f07010" stroke="#8a3a00" stroke-width="1.5"/><path d="M44,30 L54,40" stroke="#c02010" stroke-width="2"/><polygon points="50,52 62,38 62,52" fill="#fff" stroke="#222" stroke-width="1.5"/>
<circle class="g" cx="0" cy="32" r="5"/><circle class="g" cx="105" cy="16" r="5"/><circle class="g" cx="105" cy="48" r="5"/></g>
<g transform="translate(3689,1894)"><rect class="n" width="102" height="64" rx="6"/>
<text class="t" x="10" y="22">M</text><text class="t" x="10" y="54">M</text><text class="t e" x="92" y="38">O</text>
<circle cx="52" cy="32" r="8" fill="#f0a020" stroke="#222" stroke-width="1.5"/><g fill="#f07010" stroke="#222" stroke-width="1"><circle cx="52" cy="16" r="3"/><circle cx="52" cy="48" r="3"/><circle cx="36" cy="32" r="3"/><circle cx="68" cy="32" r="3"/><circle cx="41" cy="21" r="3"/><circle cx="63" cy="21" r="3"/><circle cx="41" cy="43" r="3"/><circle cx="63" cy="43" r="3"/></g>
<circle class="g" cx="0" cy="16" r="5"/><circle class="g" cx="0" cy="48" r="5"/><circle class="g" cx="102" cy="32" r="5"/></g>
<g transform="translate(3859,1894)"><rect class="n" width="101" height="94" rx="6"/>
<text class="t" x="12" y="22">M</text><text class="t" x="12" y="53">D</text><text class="t" x="12" y="84">T</text><text class="t e" x="91" y="53">O</text>
<polygon points="38,36 62,32 58,62 44,60" fill="#27b027" stroke="#0d4a0d" stroke-width="2"/><polygon points="45,42 56,40 53,54 47,53" fill="#0f5a0f"/>
<circle class="g" cx="0" cy="16" r="5"/><circle class="g" cx="0" cy="47" r="5"/><circle class="g" cx="0" cy="78" r="5"/><circle class="g" cx="101" cy="47" r="5"/></g>
<g transform="translate(3994,1894)"><rect class="n" width="102" height="94" rx="6"/>
<text class="t" x="12" y="22">M</text><text class="t" x="12" y="53">D</text><text class="t" x="12" y="84">T</text><text class="t e" x="92" y="53">O</text>
<path d="M43,38 L51,32 L59,38 V58 L51,64 L43,58Z" fill="url(#gem)" stroke="#0f2220" stroke-width="1.5"/>
<circle class="g" cx="0" cy="16" r="5"/><circle class="g" cx="0" cy="47" r="5"/><circle class="g" cx="0" cy="78" r="5"/><circle class="g" cx="102" cy="47" r="5"/></g>
<g transform="translate(4150,1894)"><rect class="n" width="102" height="94" rx="6"/>
<text class="t" x="12" y="22">M</text><text class="t" x="12" y="53">L</text><text class="t" x="12" y="84">S</text><text class="t e" x="92" y="53">O</text>
<path d="M51,32 C59,40 63,46 63,52 C63,60 57,64 51,64 C45,64 39,60 39,52 C39,46 43,40 51,32Z" fill="url(#red)"/>
<circle class="g" cx="0" cy="16" r="5"/><circle class="g" cx="0" cy="47" r="5"/><circle class="g" cx="0" cy="78" r="5"/><circle class="g" cx="102" cy="47" r="5"/></g>

<g transform="translate(3565,1861)"><rect class="sr" width="295" height="29" rx="5"/><rect class="sl" width="79" height="29" rx="5"/><text class="st" x="6" y="20">Distance</text><path class="rail" d="M91,12 H282"/><path class="tick" d="M91,12 H282"/><text class="sv" x="134" y="20">51.42</text><circle class="mk" cx="188" cy="14.5" r="5"/><circle class="g" cx="295" cy="14.5" r="5"/></g>
<g transform="translate(3945,1860)"><rect class="sr" width="236" height="29" rx="5"/><rect class="sl" width="55" height="29" rx="5"/><text class="st" x="6" y="20">Level</text><path class="rail" d="M67,12 H223"/><path class="tick" d="M67,12 H223"/><text class="sv" x="98" y="20">2.713</text><circle class="mk" cx="151" cy="14.5" r="5"/><circle class="g" cx="236" cy="14.5" r="5"/></g>
<g transform="translate(3616,2010)"><rect class="sr" width="257" height="30" rx="5"/><rect class="sl" width="59" height="30" rx="5"/><text class="st" x="6" y="21">Value</text><path class="rail" d="M71,13 H244"/><path class="tick" d="M71,13 H244"/><circle class="mk" cx="89" cy="15" r="5"/><text class="sv" x="97" y="21">0.189</text><circle class="g" cx="257" cy="15" r="5"/></g>
<g transform="translate(3971,1998)"><rect class="nl" width="91" height="42" rx="6"/>
<text class="t" x="10" y="27">x</text><text class="t e" x="82" y="27">y</text>
<rect x="33" y="8" width="25" height="26" rx="4" fill="#f4f4f4" stroke="#666" stroke-width="1.5"/><text x="45.5" y="27" font-family="Liberation Sans" font-size="14" font-weight="bold" text-anchor="middle" fill="#111">-x</text>
<circle class="g" cx="0" cy="21" r="5"/><circle class="g" cx="91" cy="21" r="5"/></g>

<!-- ================= GREEN ================= -->
<g transform="translate(4040,2098)"><rect class="sr" width="234" height="29" rx="5"/><rect class="sl" width="55" height="29" rx="5"/><text class="st" x="6" y="20">Level</text><path class="rail" d="M67,12 H221"/><path class="tick" d="M67,12 H221"/><circle class="mk" cx="83" cy="14.5" r="5"/><text class="sv" x="91" y="20">1.888</text><circle class="g" cx="234" cy="14.5" r="5"/></g>
<g transform="translate(4300,2100)"><rect class="sr" width="258" height="29" rx="5"/><rect class="sl" width="76" height="29" rx="5"/><text class="st" x="6" y="20">Distance</text><path class="rail" d="M88,12 H245"/><path class="tick" d="M88,12 H245"/><circle class="mk" cx="106" cy="14.5" r="5"/><text class="sv" x="114" y="20">0.171</text><circle class="g" cx="258" cy="14.5" r="5"/></g>
<g transform="translate(3379,2194)"><rect class="sr" width="278" height="28" rx="5"/><rect class="sl" width="98" height="28" rx="5"/><text class="st" x="6" y="20">U Divisions</text><path class="rail" d="M110,12 H265"/><path class="tick" d="M110,12 H265"/><path class="mk" d="M129,8 L134,14 L129,20 L124,14Z"/><text class="sv" x="137" y="20">2</text><circle class="g" cx="278" cy="14" r="5"/></g>
<g transform="translate(3381,2242)"><rect class="sr" width="278" height="29" rx="5"/><rect class="sl" width="96" height="29" rx="5"/><text class="st" x="6" y="20">V Divisions</text><path class="rail" d="M108,12 H265"/><path class="tick" d="M108,12 H265"/><text class="sv" x="233" y="20">10</text><path class="mk" d="M263,8.5 L268,14.5 L263,20.5 L258,14.5Z"/><circle class="g" cx="278" cy="14.5" r="5"/></g>
<g transform="translate(3852,2283)"><rect class="sr" width="284" height="29" rx="5"/><rect class="sl" width="69" height="29" rx="5"/><text class="st" x="6" y="20">Stellate</text><path class="rail" d="M81,12 H271"/><path class="tick" d="M81,12 H271"/><circle class="mk" cx="175" cy="14.5" r="5"/><text class="sv" x="183" y="20">0.489</text><circle class="g" cx="284" cy="14.5" r="5"/></g>

<g transform="translate(3697,2167)"><rect class="n" width="148" height="123" rx="6"/>
<text class="t" x="12" y="21">Srf</text><text class="t" x="12" y="52">U</text><text class="t" x="12" y="83">V</text><text class="t" x="12" y="113">t</text><text class="t e" x="138" y="37">Cells</text><text class="t e" x="138" y="97">Centers</text>
<g fill="none" stroke="#2a9ad8" stroke-width="3"><polygon points="62,40 68,44 68,51 62,55 56,51 56,44"/><polygon points="72,54 78,58 78,65 72,69 66,65 66,58"/><polygon points="62,68 68,72 68,79 62,83 56,79 56,72"/></g>
<circle class="g" cx="0" cy="15" r="5"/><circle class="g" cx="0" cy="46" r="5"/><circle class="g" cx="0" cy="77" r="5"/><circle class="g" cx="0" cy="107" r="5"/><circle class="g" cx="148" cy="31" r="5"/><circle class="g" cx="148" cy="91" r="5"/></g>

<g transform="translate(3888,2186)"><rect class="n" width="74" height="34" rx="6"/>
<polygon points="49,17 43,6 31,6 25,17 31,28 43,28" fill="#1e1e1e"/><path d="M31,20 C33,10 44,10 44,16 C44,22 35,22 36,17" stroke="#aaa" stroke-width="2" fill="none"/>
<circle class="g" cx="0" cy="17" r="5"/><circle class="g" cx="74" cy="17" r="5"/></g>

<g transform="translate(3996,2167)"><rect class="n" width="100" height="94" rx="6"/>
<text class="t" x="12" y="22">M</text><text class="t" x="12" y="53">F</text><text class="t" x="12" y="84">O</text><text class="t e" x="90" y="53">O</text>
<path d="M50,28 L64,47 L50,66 L36,47Z" fill="#8fd4f0" stroke="#1a5a80" stroke-width="2.5"/><path d="M42,56 L58,38" stroke="#1a5a80" stroke-width="2.5"/>
<circle class="g" cx="0" cy="16" r="5"/><circle class="g" cx="0" cy="47" r="5"/><circle class="g" cx="0" cy="78" r="5"/><circle class="g" cx="100" cy="47" r="5"/></g>

<g transform="translate(4206,2167)"><rect class="n" width="115" height="240" rx="6"/>
<text class="t" x="14" y="21">G</text><text class="t" x="14" y="51">I</text><text class="t" x="14" y="81">T0</text><text class="t" x="14" y="111">D</text><text class="t" x="14" y="141">N</text><text class="t" x="14" y="171">S</text><text class="t" x="14" y="201">C</text><text class="t" x="14" y="231">clr</text>
<text class="t e" x="105" y="67">out</text><text class="t e" x="105" y="185">A</text>
<polygon points="58,100 74,132 42,132" fill="#e05080" stroke="#7a1030" stroke-width="2"/><polygon points="58,112 66,127 50,127" fill="#8a8a96"/>
<circle class="g" cx="0" cy="15" r="5"/><circle class="g" cx="0" cy="45" r="5"/><circle class="g" cx="0" cy="75" r="5"/><circle class="g" cx="0" cy="105" r="5"/><circle class="g" cx="0" cy="135" r="5"/><circle class="g" cx="0" cy="165" r="5"/><circle class="g" cx="0" cy="195" r="5"/><circle class="g" cx="0" cy="225" r="5"/><circle class="g" cx="115" cy="61" r="5"/><circle class="g" cx="115" cy="179" r="5"/></g>

<g transform="translate(4367,2167)"><rect class="n" width="100" height="94" rx="6"/>
<text class="t" x="12" y="22">M</text><text class="t" x="12" y="53">L</text><text class="t" x="12" y="84">S</text><text class="t e" x="90" y="53">O</text>
<path d="M50,32 C58,40 62,46 62,52 C62,60 56,64 50,64 C44,64 38,60 38,52 C38,46 42,40 50,32Z" fill="url(#red)"/>
<circle class="g" cx="0" cy="16" r="5"/><circle class="g" cx="0" cy="47" r="5"/><circle class="g" cx="0" cy="78" r="5"/><circle class="g" cx="100" cy="47" r="5"/></g>
<g transform="translate(4546,2167)"><rect class="nl" width="102" height="94" rx="6"/>
<text class="t" x="12" y="22">M</text><text class="t" x="12" y="53">D</text><text class="t" x="12" y="84">T</text><text class="t e" x="92" y="53">O</text>
<path d="M43,38 L51,32 L59,38 V58 L51,64 L43,58Z" fill="url(#gem)" stroke="#0f2220" stroke-width="1.5"/>
<circle class="g" cx="0" cy="16" r="5"/><circle class="g" cx="0" cy="47" r="5"/><circle class="g" cx="0" cy="78" r="5"/><circle class="g" cx="102" cy="47" r="5"/></g>

<!-- ================= YELLOW PANELS ================= -->
<g transform="translate(4507,1315)"><rect class="pn" width="235" height="31" rx="4"/><text class="pt" x="117" y="19">U COUNT 40</text><circle class="g" cx="0" cy="15.5" r="5"/><circle class="g" cx="235" cy="15.5" r="5"/></g>
<g transform="translate(4508,1361)"><rect class="pn" width="235" height="42" rx="4"/><rect x="221" y="5" width="7" height="32" rx="3.5" fill="#c7bf35"/><text class="pt" x="110" y="15">lENGTH=2.0</text><text class="pt" x="110" y="33">V COUNT 4</text><circle class="g" cx="0" cy="21" r="5"/><circle class="g" cx="235" cy="21" r="5"/></g>

<g transform="translate(4562,1627)"><rect class="pn" width="236" height="92" rx="4"/><text class="pt" x="118" y="15">T0=0.869</text><text class="pt" x="118" y="33">T1=0.868</text><text class="pt" x="118" y="50">T2=0.561</text><text class="pt" x="118" y="68">V=0.114</text><text class="pt" x="118" y="86">C=0</text><circle class="g" cx="0" cy="46" r="5"/><circle class="g" cx="236" cy="46" r="5"/></g>
<g transform="translate(4832,1627)"><rect class="pn" width="236" height="91" rx="4"/><text class="pt" x="118" y="15">T0=0.765</text><text class="pt" x="118" y="33">T1=0.897</text><text class="pt" x="118" y="50">T2=0.363</text><text class="pt" x="118" y="68">V=0.114</text><text class="pt" x="118" y="86">C=0.090</text><circle class="g" cx="0" cy="45.5" r="5"/><circle class="g" cx="236" cy="45.5" r="5"/></g>
<g transform="translate(4561,1737)"><rect class="pn" width="235" height="31" rx="4"/><text class="pt" x="117" y="21">U COUNT 20</text><circle class="g" cx="0" cy="15.5" r="5"/><circle class="g" cx="235" cy="15.5" r="5"/></g>
<g transform="translate(4831,1735)"><rect class="pn" width="235" height="31" rx="4"/><text class="pt" x="117" y="20">U COUNT 20</text><circle class="g" cx="0" cy="15.5" r="5"/><circle class="g" cx="235" cy="15.5" r="5"/></g>
<g transform="translate(4562,1778)"><rect class="pn" width="236" height="42" rx="4"/><text class="pt" x="118" y="17">LENGTH=2.0</text><text class="pt" x="118" y="35">V COUNT 1</text><circle class="g" cx="0" cy="21" r="5"/><circle class="g" cx="236" cy="21" r="5"/></g>
<g transform="translate(4832,1777)"><rect class="pn" width="236" height="42" rx="4"/><text class="pt" x="118" y="17">LENGTH=2.0</text><text class="pt" x="118" y="35">V COUNT 3</text><circle class="g" cx="0" cy="21" r="5"/><circle class="g" cx="236" cy="21" r="5"/></g>

<g transform="translate(4410,1935)"><rect class="pn" width="235" height="29" rx="4"/><text class="pt" x="117" y="18">U COUNT 25</text><circle class="g" cx="0" cy="14.5" r="5"/><circle class="g" cx="235" cy="14.5" r="5"/></g>
<g transform="translate(4410,1972)"><rect class="pn" width="237" height="38" rx="4"/><rect x="223" y="4" width="7" height="28" rx="3.5" fill="#c7bf35"/><text class="pt" x="112" y="15">lENGTH=2.2</text><text class="pt" x="112" y="31">V COUNT 6</text><circle class="g" cx="0" cy="19" r="5"/><circle class="g" cx="237" cy="19" r="5"/></g>

<g transform="translate(4770,2171)"><rect class="pn" width="238" height="29" rx="4"/><text class="pt" x="119" y="16">U COUNT 25</text><circle class="g" cx="0" cy="14.5" r="5"/><circle class="g" cx="238" cy="14.5" r="5"/></g>
<g transform="translate(4772,2210)"><rect class="pn" width="237" height="43" rx="4"/><rect x="223" y="4" width="7" height="30" rx="3.5" fill="#c7bf35"/><text class="pt" x="112" y="15">lENGTH=2.0</text><text class="pt" x="112" y="33">V COUNT 6</text><circle class="g" cx="0" cy="21.5" r="5"/><circle class="g" cx="237" cy="21.5" r="5"/></g>

<!-- TITLE -->
<text x="3843" y="3238" font-family="Liberation Sans, sans-serif" font-weight="bold" font-size="93" fill="#000" textLength="1218" lengthAdjust="spacingAndGlyphs">FINAL GRASSHOPPER CODE</text>
</svg>
</body></html>
